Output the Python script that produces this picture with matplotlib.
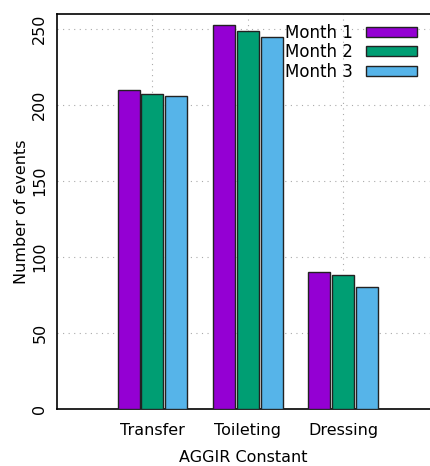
import numpy as np
import matplotlib
matplotlib.use("Agg")
import matplotlib.pyplot as plt

# data
categories = ["Transfer", "Toileting", "Dressing"]
months = ["Month 1", "Month 2", "Month 3"]
month1 = [210, 253, 90]
month2 = [207, 249, 88]
month3 = [206, 245, 80]
colors = ["#9400D3", "#009E73", "#56B4E9"]

plt.rcParams['font.family'] = ['DejaVu Sans']
fig = plt.figure(figsize=(4.30, 4.66), dpi=100)
ax = fig.add_axes([57 / 430, 1 - 408.7 / 466, 1 - 57 / 430, (408.7 - 14) / 466])

x = np.arange(len(categories))
step = 0.25
width = 0.23
for i, (vals, lab) in enumerate(zip([month1, month2, month3], months)):
    ax.bar(x + (i - 1) * step, vals, width, color=colors[i], edgecolor="#222222",
           linewidth=1.0, label=lab, zorder=3)

ax.set_xlim(-1, 2.91)
ax.set_ylim(0, 260)
ax.set_xticks(x)
ax.set_xticklabels(categories, fontsize=11.5)
ax.set_yticks([0, 50, 100, 150, 200, 250])
ax.set_yticklabels(["0", "50", "100", "150", "200", "250"], fontsize=11.5, rotation=90, va="center")
ax.tick_params(axis="x", length=0, pad=10)
ax.tick_params(axis="y", length=0, pad=7)
ax.grid(True, linestyle=(0, (1, 4)), color="#aaaaaa", linewidth=0.8, zorder=0)
ax.set_axisbelow(True)
ax.spines["right"].set_visible(False)
for s in ["left", "top", "bottom"]:
    ax.spines[s].set_linewidth(1.2)
ax.set_xlabel("AGGIR Constant", fontsize=11.5, labelpad=9)
ax.set_ylabel("Number of events", fontsize=11.5, labelpad=2)

leg = ax.legend(loc="upper right", frameon=False, markerfirst=False, fontsize=12,
                handlelength=3.1, handleheight=0.55, labelspacing=0.08,
                handletextpad=0.8, borderaxespad=0.2, bbox_to_anchor=(0.993, 1.0))
for t in leg.get_texts():
    t.set_ha("right")

fig.savefig("out.png", dpi=100)
